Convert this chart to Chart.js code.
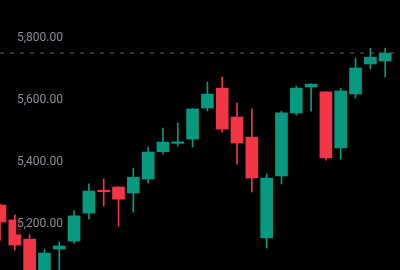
<!DOCTYPE html>
<html>
<head>
<meta charset="utf-8">
<script src="https://cdn.jsdelivr.net/npm/chart.js@4.4.1/dist/chart.umd.min.js"></script>
<style>
  html, body { margin: 0; padding: 0; background: #000; }
  #wrap { width: 400px; height: 270px; position: relative; }
</style>
</head>
<body>
<div id="wrap"><canvas id="c"></canvas></div>
<script>
// Candle index (category) and OHLC values
const candles = [0,1,2,3,4,5,6,7,8,9,10,11,12,13,14,15,16,17,18,19,20,21,22,23,24,25,26];
const opens  = [5259,5211,5149,5030,5117,5143,5233,5306,5317,5298,5343,5431,5458,5472,5572,5636,5543,5478,5153,5353,5556,5640,5624,5443,5617,5714,5724];
const highs  = [5262,5227,5169,5117,5140,5240,5327,5343,5318,5378,5446,5507,5524,5570,5656,5672,5588,5569,5359,5562,5643,5650,5625,5636,5733,5765,5765];
const lows   = [5146,5114,5010,5000,5030,5136,5214,5256,5191,5236,5330,5424,5449,5446,5562,5494,5391,5301,5120,5327,5549,5562,5404,5407,5604,5698,5672];
const closes = [5204,5130,5030,5104,5127,5224,5304,5302,5278,5349,5430,5462,5460,5569,5617,5504,5459,5346,5346,5556,5636,5649,5411,5627,5701,5736,5749];
const tickValues = [5200, 5400, 5600, 5800];

const UP = '#089981';
const DOWN = '#f23645';
const colors = candles.map((_, i) => closes[i] >= opens[i] ? UP : DOWN);
const lastClose = closes[closes.length - 1];

const bodies = candles.map((x, i) => ({ x: x, y: [opens[i], closes[i]] }));
const wicks  = candles.map((x, i) => ({ x: x, y: [lows[i], highs[i]] }));

new Chart(document.getElementById('c'), {
  type: 'bar',
  data: {
    datasets: [
      {
        type: 'line',
        data: [{ x: 0, y: lastClose }, { x: candles.length, y: lastClose }],
        borderColor: '#6a6a6a',
        borderWidth: 1,
        borderDash: [4, 6],
        pointRadius: 0,
        order: 3
      },
      {
        data: wicks,
        backgroundColor: colors,
        barThickness: 1,
        grouped: false,
        order: 2
      },
      {
        data: bodies,
        backgroundColor: colors,
        barThickness: 12,
        minBarLength: 1.5,
        grouped: false,
        order: 1
      }
    ]
  },
  options: {
    responsive: true,
    maintainAspectRatio: false,
    animation: false,
    layout: { padding: 0 },
    plugins: { legend: { display: false }, tooltip: { enabled: false } },
    scales: {
      x: {
        type: 'linear',
        min: 0,
        max: 27,
        offset: false,
        display: false
      },
      y: {
        type: 'linear',
        position: 'left',
        min: 5049.4,
        max: 5920.3,
        grid: { display: false },
        border: { display: false },
        afterFit: (s) => { s.width = 0; s.paddingTop = 0; s.paddingBottom = 0; },
        afterBuildTicks: (s) => { s.ticks = tickValues.map(v => ({ value: v })); },
        ticks: {
          z: 1,
          mirror: true,
          padding: 17,
          labelOffset: 1,
          color: '#8e8e93',
          font: { family: 'Roboto', size: 12 },
          showLabelBackdrop: true,
          backdropColor: 'rgba(0,0,0,0.78)',
          backdropPadding: { left: 1, right: 2, top: 3, bottom: 3 },
          callback: (v) => Number(v).toLocaleString('en-US', { minimumFractionDigits: 2, maximumFractionDigits: 2 })
        }
      }
    }
  }
});
</script>
</body>
</html>
